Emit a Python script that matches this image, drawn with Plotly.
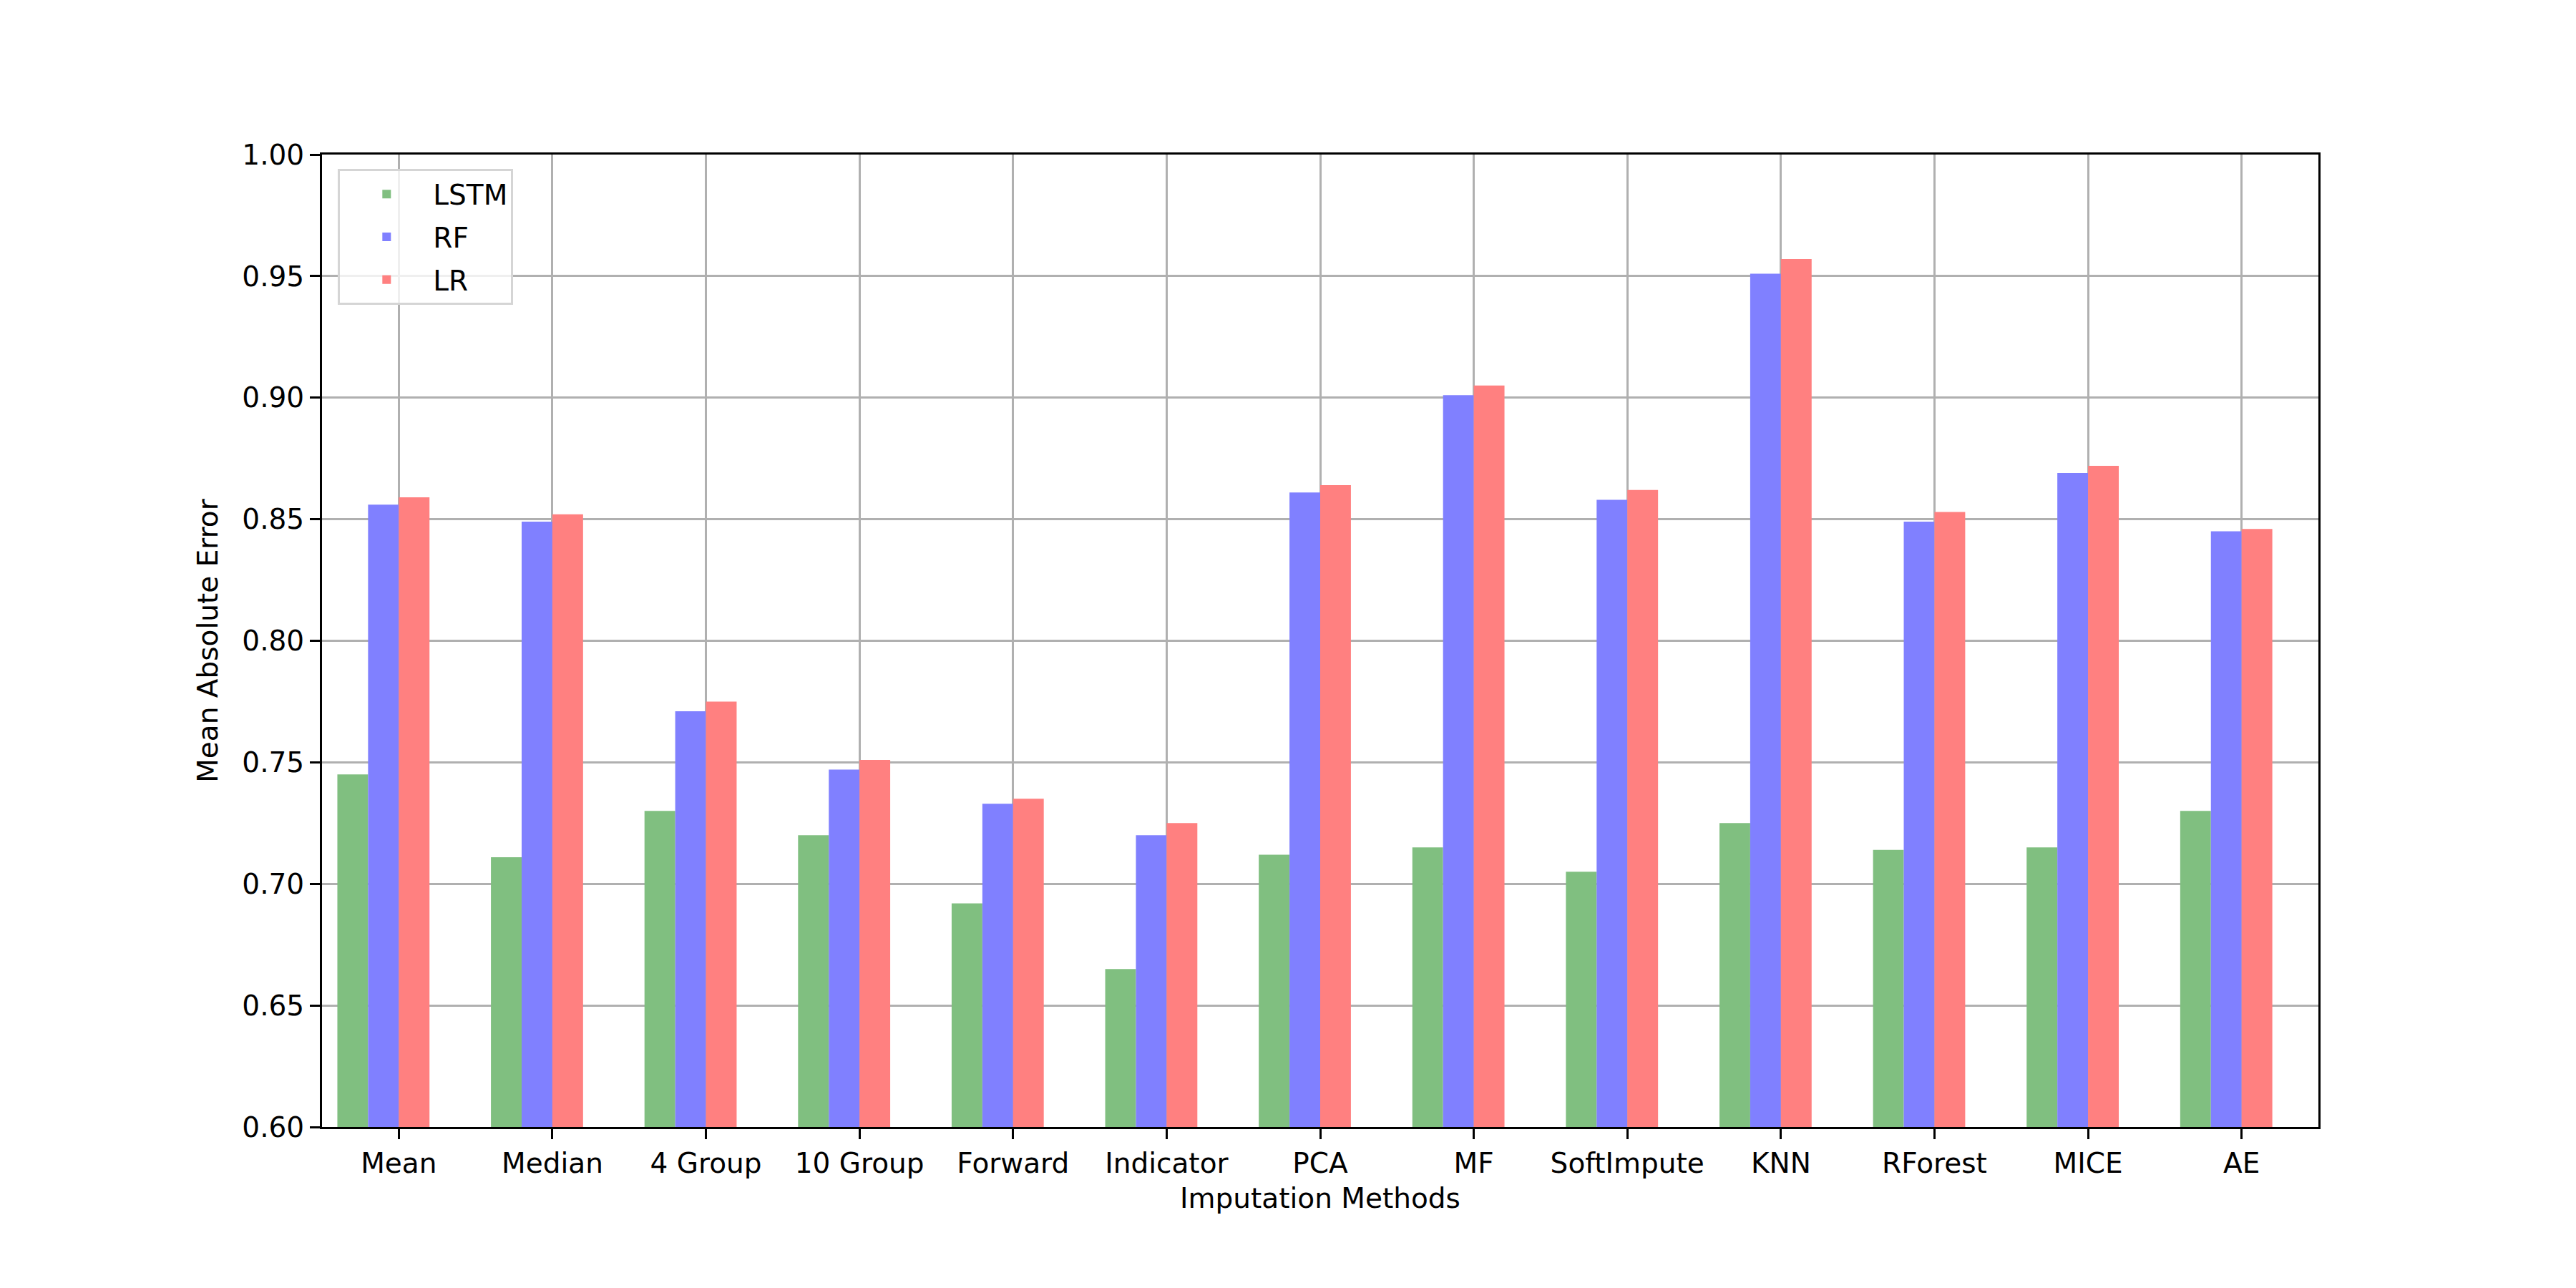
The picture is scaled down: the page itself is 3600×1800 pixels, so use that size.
import plotly.graph_objects as go

methods = ["Mean", "Median", "4 Group", "10 Group", "Forward", "Indicator", "PCA",
           "MF", "SoftImpute", "KNN", "RForest", "MICE", "AE"]
lstm = [0.745, 0.711, 0.730, 0.720, 0.692, 0.665, 0.712, 0.715, 0.705, 0.725, 0.714, 0.715, 0.730]
rf = [0.856, 0.849, 0.771, 0.747, 0.733, 0.720, 0.861, 0.901, 0.858, 0.951, 0.849, 0.869, 0.845]
lr = [0.859, 0.852, 0.775, 0.751, 0.735, 0.725, 0.864, 0.905, 0.862, 0.957, 0.853, 0.872, 0.846]
y_ticks = [0.60, 0.65, 0.70, 0.75, 0.80, 0.85, 0.90, 0.95, 1.00]

pos = list(range(len(methods)))
font = "DejaVu Sans"

fig = go.Figure()
# bars sit left of each tick, as in the matplotlib original
for name, vals, color, off in [("LSTM", lstm, "#80bf80", -0.4),
                               ("RF", rf, "#8080ff", -0.2),
                               ("LR", lr, "#ff8080", 0.0)]:
    fig.add_trace(go.Bar(x=pos, y=vals, name=name, width=0.2, offset=off,
                         legendgroup=name,
                         marker=dict(color=color, line_width=0)))

axis_style = dict(showline=True, linecolor="black", linewidth=3, mirror=True,
                  showgrid=True, gridcolor="#b0b0b0", gridwidth=3,
                  ticks="outside", ticklen=14, tickwidth=3, tickcolor="black",
                  layer="above traces", zeroline=False,
                  tickfont=dict(family=font, size=39, color="black"))

fig.update_xaxes(range=[-0.5, 12.5], tickvals=pos, ticktext=methods,
                 title=dict(text="Imputation Methods", font=dict(family=font, size=39, color="black"),
                            standoff=14),
                 **axis_style)
fig.update_yaxes(range=[0.6, 1.0], tickvals=y_ticks, tickformat=".2f",
                 title=dict(text="Mean Absolute Error", font=dict(family=font, size=39, color="black"),
                            standoff=22),
                 **axis_style)

fig.update_layout(
    width=3600, height=1800,
    barmode="overlay",
    plot_bgcolor="white", paper_bgcolor="white",
    margin=dict(l=450, r=360, t=216, b=225),
    font=dict(family=font, size=39, color="black"),
    legend=dict(x=0.008, y=0.985, xanchor="left", yanchor="top",
                bgcolor="rgba(255,255,255,0.8)", bordercolor="#d5d5d5", borderwidth=3,
                font=dict(family=font, size=39), itemwidth=120, tracegroupgap=6),
    showlegend=True,
)

# drop the default 8px body margin so the figure sits at the page origin
fig.write_html("out.html", config={"displayModeBar": False},
               post_script="document.body.style.margin='0';")
